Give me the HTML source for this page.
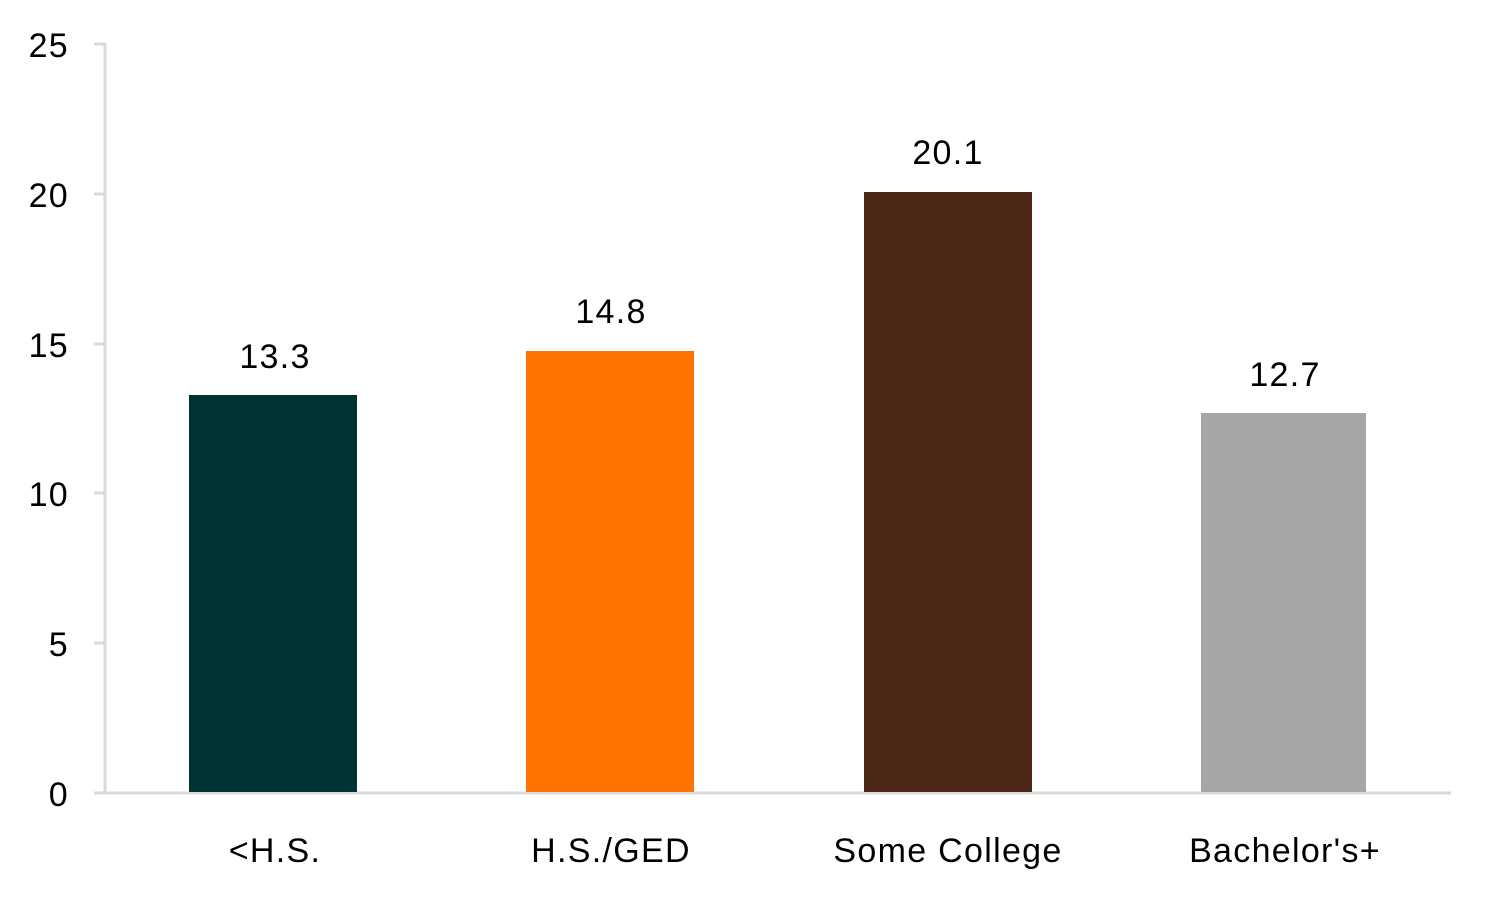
<!DOCTYPE html>
<html><head><style>
body{margin:0;background:#fff;}
text{font-family:"Liberation Sans",sans-serif;font-size:34px;fill:#000;}
.c{letter-spacing:1.3px;}
</style></head><body>
<svg width="1497" height="897" xmlns="http://www.w3.org/2000/svg">
<g stroke="#d9d9d9" stroke-width="3">
<line x1="105" y1="43" x2="105" y2="794"/>
<line x1="94" y1="793" x2="1451" y2="793"/>
<line x1="94" y1="44" x2="105" y2="44"/>
<line x1="94" y1="194" x2="105" y2="194"/>
<line x1="94" y1="344" x2="105" y2="344"/>
<line x1="94" y1="493" x2="105" y2="493"/>
<line x1="94" y1="643" x2="105" y2="643"/>
</g>
<g text-anchor="end" class="c">
<text x="69" y="57">25</text>
<text x="69" y="207">20</text>
<text x="69" y="357">15</text>
<text x="69" y="506">10</text>
<text x="69" y="656">5</text>
<text x="69" y="806">0</text>
</g>
<rect x="189" y="395" width="168" height="397" fill="#023334"/>
<rect x="526" y="351" width="168" height="441" fill="#ff7300"/>
<rect x="864" y="192" width="168" height="600" fill="#4d2818"/>
<rect x="1201" y="413" width="165" height="379" fill="#a6a6a6"/>
<g text-anchor="middle" class="c">
<text x="275" y="368">13.3</text>
<text x="611" y="323">14.8</text>
<text x="948" y="164">20.1</text>
<text x="1285" y="386">12.7</text>
<text x="275" y="862">&lt;H.S.</text>
<text x="611" y="862">H.S./GED</text>
<text x="948" y="862">Some College</text>
<text x="1285" y="862">Bachelor's+</text>
</g>
</svg>
</body></html>
